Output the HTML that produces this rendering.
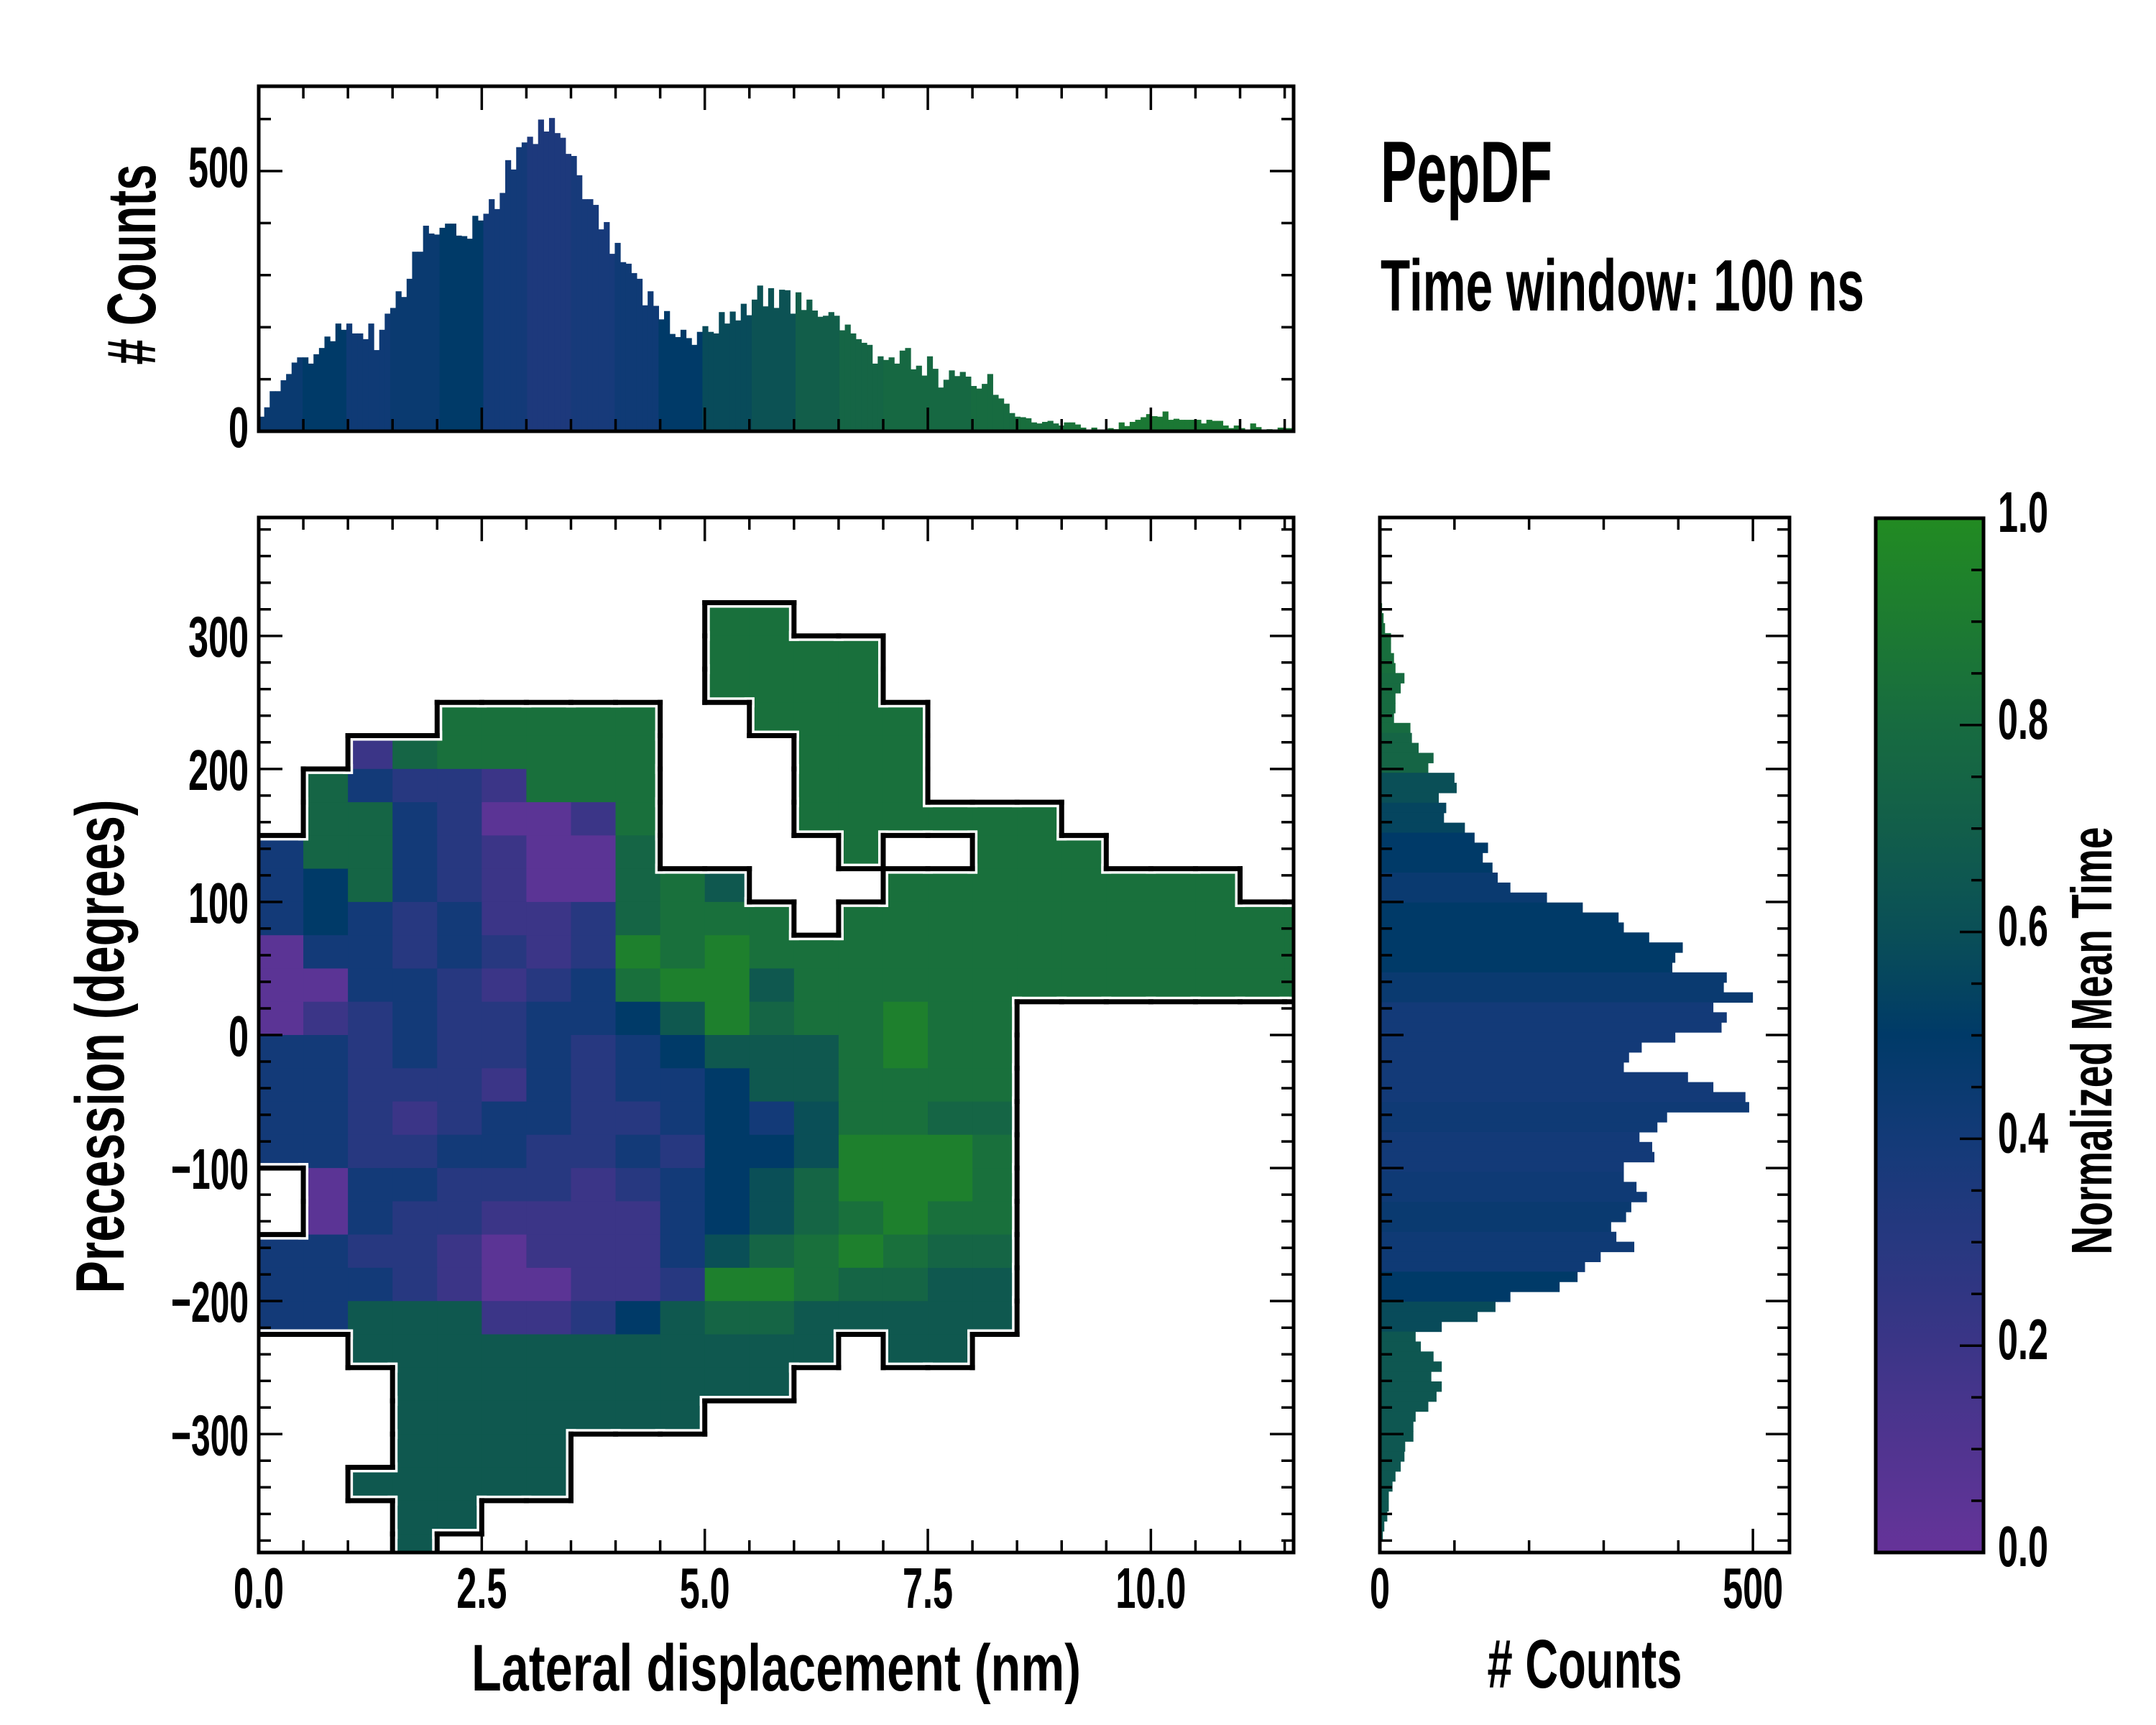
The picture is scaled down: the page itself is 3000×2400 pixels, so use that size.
<!DOCTYPE html>
<html><head><meta charset="utf-8">
<style>
html,body{margin:0;padding:0;background:#fff;}
svg{display:block;}
text{font-family:"Liberation Sans Narrow","Liberation Sans",sans-serif;font-weight:bold;fill:#000;}
</style></head>
<body>
<svg id="fig" width="3000" height="2400" viewBox="0 0 3000 2400" xmlns="http://www.w3.org/2000/svg">
<defs>
<clipPath id="mainClip"><rect x="360" y="720" width="1440" height="1440"/></clipPath>
<clipPath id="topClip"><rect x="360" y="120" width="1440" height="480"/></clipPath>
<clipPath id="rightClip"><rect x="1920" y="720" width="570" height="1440"/></clipPath>
<linearGradient id="cbGrad" x1="0" y1="1" x2="0" y2="0"></linearGradient>
</defs>
<rect x="0" y="0" width="3000" height="2400" fill="#fff"/>

<g id="heat" clip-path="url(#mainClip)"></g>
<g id="outline" clip-path="url(#mainClip)"></g>
<g id="topBars" clip-path="url(#topClip)"></g>
<g id="rightBars" clip-path="url(#rightClip)"></g>
<rect id="cbRect" x="2610" y="721" width="150" height="1439" fill="url(#cbGrad)"/>
<g id="ticks"></g>
<g id="tickLabels"></g>

<rect x="360" y="720" width="1440" height="1440" fill="none" stroke="#000" stroke-width="5"/>
<rect x="360" y="120" width="1440" height="480" fill="none" stroke="#000" stroke-width="5"/>
<rect x="1920" y="720" width="570" height="1440" fill="none" stroke="#000" stroke-width="5"/>
<rect x="2610" y="721" width="150" height="1439" fill="none" stroke="#000" stroke-width="5"/>

<text x="1921" y="281" font-size="122" textLength="239" lengthAdjust="spacingAndGlyphs">PepDF</text>
<text x="1921" y="432" font-size="101" textLength="673" lengthAdjust="spacingAndGlyphs">Time window: 100 ns</text>
<text x="1080" y="2352" font-size="92" text-anchor="middle" textLength="848" lengthAdjust="spacingAndGlyphs">Lateral displacement (nm)</text>
<text transform="translate(172,1456) rotate(-90)" x="0" y="0" font-size="96" text-anchor="middle" textLength="687" lengthAdjust="spacingAndGlyphs">Precession (degrees)</text>
<text transform="translate(216,368) rotate(-90)" x="0" y="0" font-size="96" text-anchor="middle" textLength="279" lengthAdjust="spacingAndGlyphs"># Counts</text>
<text x="2205" y="2348" font-size="96" text-anchor="middle" textLength="271" lengthAdjust="spacingAndGlyphs"># Counts</text>
<text transform="translate(2938,1448) rotate(-90)" x="0" y="0" font-size="80" text-anchor="middle" textLength="595" lengthAdjust="spacingAndGlyphs">Normalized Mean Time</text>
</svg>

<script>
// ---------- data ----------
const heatRows = [
"........................",
"........................",
"........................",
"..........88............",
"..........8888..........",
"..........8888..........",
"....88888..8888.........",
"..1788888...888.........",
".73221888...888.........",
".77320018...888888......",
"377321007....8..888.....",
"34732100786...88888888..",
"343231127888.88888888888",
"033232129898888888888888",
"003321238996888888888888",
"01232233469788988.......",
"33232232346668988.......",
"33222132334668888.......",
"33212332234358877.......",
"33223322324459998.......",
".0332221234579998.......",
".0322111134578988.......",
"33221011135789877.......",
"33321001129987766.......",
"33666112467766666.......",
"..66666666666.66........",
"...666666666............",
"...6666666..............",
"...6666.................",
"..66666.................",
"...66...................",
"...6...................."
];
const heatCodeValues = [0.05,0.2,0.3,0.4,0.5,0.6,0.66,0.75,0.83,0.93];
const heatColWidth = 0.5;   // nm
const heatRowHeight = 25;   // degrees
const heatTop = 400;        // degrees

const topCounts = [28,46,77,77,98,110,132,142,142,130,148,160,182,173,207,195,207,188,188,177,
207,156,195,226,237,269,258,293,345,345,395,380,378,391,399,399,376,375,370,414,
405,418,446,427,458,521,503,546,555,566,552,599,576,602,573,564,533,529,492,446,
446,435,388,402,341,362,325,322,304,293,242,
269,241,215,231,187,181,195,179,166,191,202,191,188,229,207,230,213,245,223,253,
280,240,275,237,272,271,226,267,233,253,232,220,222,229,222,194,205,188,177,170,
166,130,144,137,142,130,155,160,119,126,107,144,120,84,99,117,106,114,105,87,
82,91,110,70,63,53,35,28,27,25,17,15,18,20,15,11,17,17,13,7,
3,7,3,1,6,4,17,10,18,22,27,33,29,28,38,22,24,22,22,22,
22,15,22,20,20,11,6,11,6,0,15,8,0,4,3,7,6,6];
const topBinWidth = 0.0614; // nm
const topMeanTime = [0.45,0.5,0.42,0.45,0.5,0.4,0.35,0.38,0.42,0.5,0.58,0.62,0.7,0.75,0.78,0.78,0.8,0.82,0.85,0.88,0.88,0.88,0.88,0.88];

const rightCounts = [3,5,7,15,15,19,21,33,28,21,21,19,41,43,52,72,65,100,103,79,
89,86,114,127,145,138,151,158,175,224,272,320,327,361,406,396,392,465,461,500,
447,465,458,396,351,334,327,413,447,490,495,385,372,348,365,368,327,327,344,358,
337,330,310,317,341,296,275,265,241,175,155,131,83,48,55,72,83,69,83,76,
65,48,45,45,34,33,28,21,17,12,12,10,6,4,2];
const rightBinTop = 324.6;  // degrees
const rightBinHeight = 7.5; // degrees
const rightMeanTime = [0.8,0.8,0.8,0.82,0.82,0.8,0.8,0.75,0.6,0.55,0.5,0.45,0.5,0.5,0.45,0.4,
0.4,0.4,0.42,0.4,0.42,0.45,0.42,0.5,0.58,0.65,0.65,0.65,0.65,0.65,0.65,0.65];

const xMajorTicks = [0,2.5,5,7.5,10];
const xMajorLabels = ["0.0","2.5","5.0","7.5","10.0"];
const yMajorTicks = [-300,-200,-100,0,100,200,300];
const yMajorLabels = ["\u2212300","\u2212200","\u2212100","0","100","200","300"];
const topYMajorTicks = [0,500];
const topYMajorLabels = ["0","500"];
const rightXMajorTicks = [0,500];
const rightXMajorLabels = ["0","500"];
const cbMajorTicks = [0,0.2,0.4,0.6,0.8,1.0];
const cbMajorLabels = ["0.0","0.2","0.4","0.6","0.8","1.0"];

// ---------- scales ----------
const X0=360,X1=1800,Y0=720,Y1=2160;
const xMax=11.6, yMax=389;
const xs = v => X0 + v/xMax*(X1-X0);
const ys = d => (Y0+Y1)/2 - d*((Y1-Y0)/2/yMax);
const topMax = 663;
const topY = c => 600 - c/topMax*480;
const rightMax = 549;
const rightX = c => 1920 + c/rightMax*570;
const cbY = v => 2160 - v*1439;

const cmapStops = [[0,"#663399"],[0.2,"#3b3587"],[0.4,"#133a78"],[0.5,"#003a68"],[0.6,"#0a4f57"],[0.7,"#125e4a"],[0.8,"#176b40"],[1.0,"#228b22"]];
function hex(h){return [parseInt(h.substr(1,2),16),parseInt(h.substr(3,2),16),parseInt(h.substr(5,2),16)];}
function cmap(v){
  v=Math.max(0,Math.min(1,v));
  for(let i=1;i<cmapStops.length;i++){
    if(v<=cmapStops[i][0]){
      const a=cmapStops[i-1],b=cmapStops[i];
      const t=(v-a[0])/(b[0]-a[0]);
      const ca=hex(a[1]),cb=hex(b[1]);
      return "rgb("+ca.map((c,k)=>Math.round(c+(cb[k]-c)*t)).join(",")+")";
    }
  }
  return cmapStops[cmapStops.length-1][1];
}
const NS="http://www.w3.org/2000/svg";
function mk(tag,attrs,parent){const e=document.createElementNS(NS,tag);for(const k in attrs)e.setAttribute(k,attrs[k]);parent.appendChild(e);return e;}

// ---------- colorbar gradient ----------
const grad=document.getElementById("cbGrad");
for(let i=0;i<=20;i++){const v=i/20;mk("stop",{offset:v,"stop-color":cmap(v)},grad);}

// ---------- heatmap ----------
const heat=document.getElementById("heat");
const nRows=heatRows.length, nCols=heatRows[0].length;
function filled(r,c){if(r<0||r>=nRows||c<0||c>=nCols)return null;return heatRows[r][c]!==".";}
for(let r=0;r<nRows;r++){
  for(let c=0;c<nCols;c++){
    const ch=heatRows[r][c];
    if(ch===".")continue;
    const v=heatCodeValues[parseInt(ch)];
    const x1=xs(c*heatColWidth), x2=xs((c+1)*heatColWidth);
    const y1=ys(heatTop-r*heatRowHeight), y2=ys(heatTop-(r+1)*heatRowHeight);
    const el=mk("rect",{x:x1,y:y1,width:x2-x1+0.6,height:y2-y1+0.6,fill:cmap(v)},heat);
    
    
  }
}
// outline around occupied region
const outline=document.getElementById("outline");
function edge(xa,ya,xb,yb){
  const w=mk("line",{x1:xa,y1:ya,x2:xb,y2:yb,stroke:"#fff","stroke-width":14,"stroke-linecap":"square"},outline);
  
  
}
function edgeB(xa,ya,xb,yb){
  const b=mk("line",{x1:xa,y1:ya,x2:xb,y2:yb,stroke:"#000","stroke-width":7,"stroke-linecap":"square"},outline);
  
  
}
const edges=[];
for(let r=0;r<nRows;r++){
  for(let c=0;c<nCols;c++){
    if(!filled(r,c))continue;
    const x1=xs(c*heatColWidth), x2=xs((c+1)*heatColWidth);
    const y1=ys(heatTop-r*heatRowHeight), y2=ys(heatTop-(r+1)*heatRowHeight);
    if(filled(r-1,c)===false)edges.push([x1,y1,x2,y1]);
    if(filled(r+1,c)===false)edges.push([x1,y2,x2,y2]);
    if(filled(r,c-1)===false)edges.push([x1,y1,x1,y2]);
    if(filled(r,c+1)===false)edges.push([x2,y1,x2,y2]);
  }
}
edges.forEach(e=>edge(...e));
edges.forEach(e=>edgeB(...e));

// ---------- top histogram ----------
const topBars=document.getElementById("topBars");
topCounts.forEach((cnt,i)=>{
  const a=i*topBinWidth, b=(i+1)*topBinWidth;
  const mid=(a+b)/2;
  const mt=topMeanTime[Math.min(topMeanTime.length-1,Math.floor(mid/0.5))];
  const x1=xs(a), x2=xs(b);
  const el=mk("rect",{x:x1,y:topY(cnt),width:x2-x1+0.6,height:600-topY(cnt),fill:cmap(mt)},topBars);
  
  
});

// ---------- right histogram ----------
const rightBars=document.getElementById("rightBars");
rightCounts.forEach((cnt,i)=>{
  const top=rightBinTop-i*rightBinHeight, bot=top-rightBinHeight;
  const mid=(top+bot)/2;
  const idx=Math.max(0,Math.min(rightMeanTime.length-1,Math.floor((heatTop-mid)/heatRowHeight)));
  const y1=ys(top), y2=ys(bot);
  const el=mk("rect",{x:1920,y:y1,width:rightX(cnt)-1920,height:y2-y1+0.6,fill:cmap(rightMeanTime[idx])},rightBars);
  
  
});

// ---------- ticks ----------
const tg=document.getElementById("ticks");
function tk(x1,y1,x2,y2){
  const l=mk("line",{x1:x1,y1:y1,x2:x2,y2:y2,stroke:"#000","stroke-width":3.5},tg);
  
  
}
const MAJ=33, MIN=17;
for(let v=0;v<=11.5+1e-9;v+=0.5){
  const major=xMajorTicks.some(m=>Math.abs(m-v)<1e-6);
  const L=major?MAJ:MIN, x=xs(v);
  tk(x,Y1,x,Y1-L); tk(x,Y0,x,Y0+L);
  tk(x,600,x,600-L); tk(x,120,x,120+L);
}
for(let d=-380;d<=380;d+=20){
  const major=yMajorTicks.indexOf(d)>=0;
  const L=major?MAJ:MIN, y=ys(d);
  tk(X0,y,X0+L,y); tk(X1,y,X1-L,y);
  tk(1920,y,1920+L,y); tk(2490,y,2490-L,y);
}
for(let c=0;c<=600;c+=100){
  const major=topYMajorTicks.indexOf(c)>=0;
  const L=major?MAJ:MIN, y=topY(c);
  tk(X0,y,X0+L,y); tk(X1,y,X1-L,y);
}
for(let c=0;c<=500;c+=100){
  const major=rightXMajorTicks.indexOf(c)>=0;
  const L=major?MAJ:MIN, x=rightX(c);
  tk(x,Y1,x,Y1-L); tk(x,Y0,x,Y0+L);
}
for(let i=0;i<=20;i++){
  const v=i/20;
  const major=cbMajorTicks.some(m=>Math.abs(m-v)<1e-6);
  const L=major?33:17, y=cbY(v);
  tk(2760,y,2760-L,y);
}

// ---------- tick labels ----------
const lg=document.getElementById("tickLabels");
function lw(s){let w=0;for(const ch of s){w+= ch==="."?14:(ch==="\u2212"?24:28);}return w;}
function lab(s,x,y,anchor){
  const t=mk("text",{x:x,y:y,"font-size":80,"text-anchor":anchor,textLength:lw(s),lengthAdjust:"spacingAndGlyphs"},lg);
  t.textContent=s;
  
  
}
xMajorTicks.forEach((v,i)=>lab(xMajorLabels[i],xs(v),2237,"middle"));
yMajorTicks.forEach((d,i)=>lab(yMajorLabels[i],346,ys(d)+29,"end"));
topYMajorTicks.forEach((c,i)=>lab(topYMajorLabels[i],346,topY(c)+22,"end"));
rightXMajorTicks.forEach((c,i)=>lab(rightXMajorLabels[i],rightX(c),2237,"middle"));
cbMajorTicks.forEach((v,i)=>lab(cbMajorLabels[i],2780,cbY(v)+19,"start"));
</script>
</body></html>
